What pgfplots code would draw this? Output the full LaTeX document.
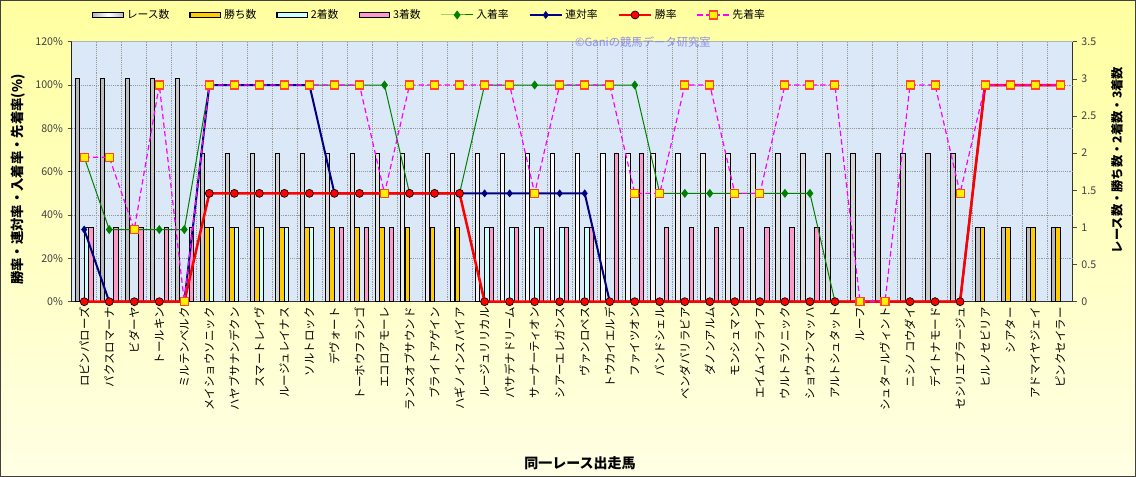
\documentclass[border=0pt]{standalone}
\usepackage{pgfplots}
\pgfplotsset{compat=1.18}
\usepackage{pgfplotstable}
\usepackage{fontspec}
\setmainfont{Noto Sans CJK JP}
\definecolor{bgtop}{RGB}{255,255,160}
\definecolor{bgbot}{RGB}{255,255,228}
\definecolor{plotbg}{RGB}{218,232,248}
\definecolor{gold}{RGB}{255,204,0}
\definecolor{cyanl}{RGB}{204,255,255}
\definecolor{pinkb}{RGB}{255,153,204}
\definecolor{grn}{RGB}{0,128,0}
\definecolor{navy}{RGB}{0,0,128}
\definecolor{mag}{RGB}{255,0,255}
\definecolor{wm}{RGB}{140,140,230}
\definecolor{sqborder}{RGB}{255,70,40}
\pgfplotstableread{
x race win sec thi nyu ren sho sen
0 3 0 1 1 66.7 33.3 0 66.7
1 3 0 0 1 33.3 0 0 66.7
2 3 0 0 1 33.3 0 0 33.3
3 3 0 0 1 33.3 0 0 100
4 3 0 0 1 33.3 0 0 0
5 2 1 1 0 100 100 50 100
6 2 1 1 0 100 100 50 100
7 2 1 1 0 100 100 50 100
8 2 1 1 0 100 100 50 100
9 2 1 1 0 100 100 50 100
10 2 1 0 1 100 50 50 100
11 2 1 0 1 100 50 50 100
12 2 1 0 1 100 50 50 50
13 2 1 0 0 50 50 50 100
14 2 1 0 0 50 50 50 100
15 2 1 0 0 50 50 50 100
16 2 0 1 1 100 50 0 100
17 2 0 1 1 100 50 0 100
18 2 0 1 1 100 50 0 50
19 2 0 1 1 100 50 0 100
20 2 0 1 1 100 50 0 100
21 2 0 0 2 100 0 0 100
22 2 0 0 2 100 0 0 50
23 2 0 0 1 50 0 0 50
24 2 0 0 1 50 0 0 100
25 2 0 0 1 50 0 0 100
26 2 0 0 1 50 0 0 50
27 2 0 0 1 50 0 0 50
28 2 0 0 1 50 0 0 100
29 2 0 0 1 50 0 0 100
30 2 0 0 0 0 0 0 100
31 2 0 0 0 0 0 0 0
32 2 0 0 0 0 0 0 0
33 2 0 0 0 0 0 0 100
34 2 0 0 0 0 0 0 100
35 2 0 0 0 0 0 0 50
36 1 1 0 0 100 100 100 100
37 1 1 0 0 100 100 100 100
38 1 1 0 0 100 100 100 100
39 1 1 0 0 100 100 100 100
}\data
\begin{document}
\begin{tikzpicture}
\useasboundingbox (0,0) rectangle (852pt,357.75pt);
\shade[top color=bgtop, bottom color=bgbot] (0,0) rectangle (852pt,357.75pt);
\draw[black!75, line width=1pt] (0.5pt,0.5pt) rectangle (851.5pt,357.25pt);
% ---------- counts (bars), right axis
\begin{axis}[
  at={(53.775pt,131.475pt)}, anchor=south west,
  scale only axis, width=750.75pt, height=195pt,
  xmin=-0.5, xmax=39.5, ymin=0, ymax=3.5,
  axis x line*=bottom, axis y line*=right,
  axis line style={black!80, line width=0.6pt},
  axis background/.style={fill=plotbg},
  ytick={0,0.5,...,3.5},
  yticklabel style={font=\fontsize{8pt}{9pt}\selectfont, text=black!75},
  /pgf/number format/assume math mode=true,
  tick align=outside, major tick length=3pt,
  tick style={black!70, line width=0.5pt},
  xtick={0,...,39},
  xticklabels={ロビンパローズ,パクスロマーナ,ビダーヤ,トールキン,ミルテンベルク,メイショウソニック,ハヤブサナンデクン,スマートレイヴ,ルージュレイナス,ソルトロック,デヴォート,トーホウフランゴ,エコロアモーレ,ランスオブサウンド,ブライトアゲイン,ハギノインスパイア,ルージュリリカル,パサデナドリーム,サーナーティオン,シアーエレガンス,ヴァンロペス,トウカイエルデ,ファイツオン,バンドシェル,ベンダバリラビア,ダノンアルム,モンシュマン,エイムインライフ,ウルトラソニック,ショウナンマッハ,アルトシュタット,ルーフ,シュタールヴィント,ニシノコウダイ,デイトナモード,セシリエプラージュ,ヒルノセビリア,シアター,アドマイヤジェイ,ピンクセイラー},
  xticklabel style={rotate=90, anchor=east, font=\fontsize{8.6pt}{9pt}\selectfont, inner sep=1pt},
  major x tick style={draw=none},
  minor xtick={0.5,1.5,...,38.5},
  xminorgrids=true,
  minor tick length=0pt,
  minor grid style={densely dotted, black!40, line width=0.5pt},
  major grid style={densely dotted, black!40, line width=0.5pt},
  extra y ticks={0.58333,1.16667,1.75,2.33333,2.91667},
  extra y tick labels={},
  extra y tick style={grid=major, major tick length=0pt},
  every axis y label/.style={at={(axis description cs:1.0443,0.545)}, anchor=center, rotate=90},
  ylabel={\bfseries\fontsize{9.2pt}{10pt}\selectfont レース数・勝ち数・2着数・3着数},
  every axis x label/.style={at={(axis description cs:0.5078,-0.620)}, anchor=center},
  xlabel={\bfseries\fontsize{10.5pt}{12pt}\selectfont 同一レース出走馬},
  restrict y to domain=0.01:10,
]
\draw[black!30, line width=0.6pt] (rel axis cs:0,1) -- (rel axis cs:1,1);
\addplot[ybar, bar width=3.3pt, bar shift=-5.2pt, draw=black, line width=0.75pt, left color=gray!55, right color=gray!55, middle color=white] table[x=x,y=race]{\data};
\addplot[ybar, bar width=3.3pt, bar shift=-1.75pt, draw=black, line width=0.75pt, fill=gold] table[x=x,y=win]{\data};
\addplot[ybar, bar width=3.3pt, bar shift=1.7pt, draw=black, line width=0.75pt, fill=cyanl] table[x=x,y=sec]{\data};
\addplot[ybar, bar width=3.3pt, bar shift=5.2pt, draw=black, line width=0.75pt, fill=pinkb] table[x=x,y=thi]{\data};
\end{axis}
% ---------- rates (lines), left axis
\begin{axis}[
  at={(53.775pt,131.475pt)}, anchor=south west,
  scale only axis, width=750.75pt, height=195pt,
  xmin=-0.5, xmax=39.5, ymin=0, ymax=120,
  axis x line=none, axis y line*=left,
  axis line style={black!85, line width=0.6pt},
  ytick={0,20,...,120},
  /pgf/number format/assume math mode=true,
  yticklabel={\pgfmathprintnumber{\tick}\%},
  yticklabel style={font=\fontsize{8pt}{9pt}\selectfont, text=black!75},
  tick align=outside, major tick length=3pt,
  tick style={black!70, line width=0.5pt},
  clip=false,
  every axis y label/.style={at={(axis description cs:-0.0536,0.47)}, anchor=center, rotate=90},
  ylabel={\bfseries\fontsize{10pt}{11pt}\selectfont 勝率・連対率・入着率・先着率(\%)},
  legend image code/.code={\draw[mark repeat=2,mark phase=2,#1] plot coordinates {(0pt,0pt) (12pt,0pt) (24pt,0pt)};},
  legend style={at={(axis description cs:0.0203,1.1027)}, anchor=west, draw=none, fill=none,
     font=\fontsize{8.1pt}{9pt}\selectfont, inner sep=0pt, legend columns=8,
     /tikz/every even column/.append style={column sep=13pt}},
]
\addlegendimage{legend image code/.code={\draw[draw=black,line width=0.9pt,left color=gray!55,right color=gray!55,middle color=white] (0pt,-2pt) rectangle (23pt,2pt);}}
\addlegendimage{legend image code/.code={\draw[draw=black,line width=0.9pt,fill=gold] (0pt,-2pt) rectangle (23pt,2pt);}}
\addlegendimage{legend image code/.code={\draw[draw=black,line width=0.9pt,fill=cyanl] (0pt,-2pt) rectangle (23pt,2pt);}}
\addlegendimage{legend image code/.code={\draw[draw=black,line width=0.9pt,fill=pinkb] (0pt,-2pt) rectangle (23pt,2pt);}}
\addplot[grn, line width=0.75pt, mark=diamond*, mark size=2.8pt, mark options={fill=grn, draw=grn}] table[x=x,y=nyu]{\data};
\addplot[navy, line width=1.5pt, mark=diamond*, mark size=2.6pt, mark options={fill=navy, draw=navy, line width=0.5pt}] table[x=x,y=ren]{\data};
\addplot[red, line width=1.9pt, mark=*, mark size=3pt, mark options={fill=red, draw=black, line width=0.5pt}] table[x=x,y=sho]{\data};
\addplot[mag, line width=0.9pt, dash pattern=on 4pt off 2.5pt, mark=square*, mark size=3pt, mark options={fill=yellow, draw=sqborder, solid, line width=0.8pt}] table[x=x,y=sen]{\data};
\legend{レース数,勝ち数,2着数,3着数,入着率,連対率,勝率,先着率}
\node[text=wm, font=\fontsize{8.5pt}{9pt}\selectfont] at (rel axis cs:0.5707,0.9988) {©Ganiの競馬データ研究室};
\end{axis}
\end{tikzpicture}
\end{document}
